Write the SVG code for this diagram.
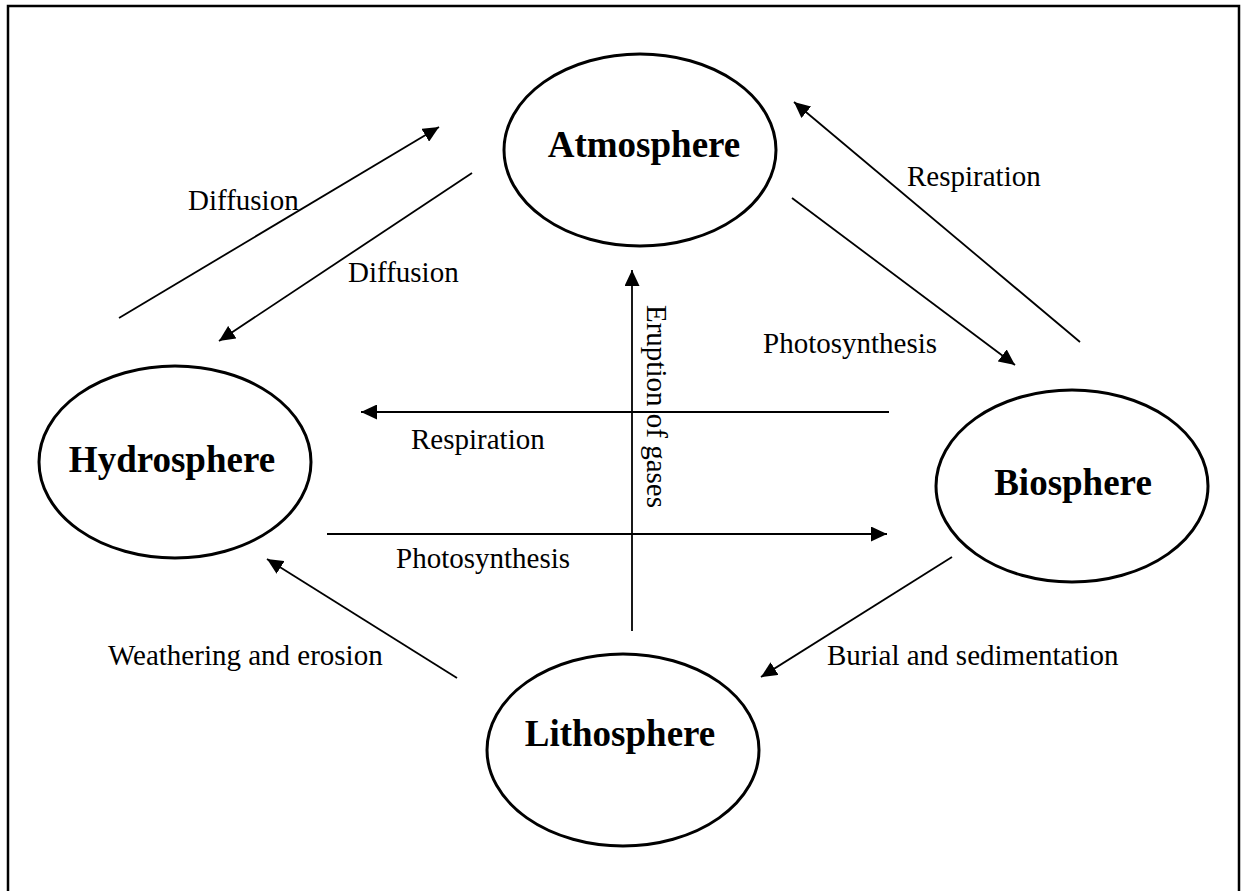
<svg xmlns="http://www.w3.org/2000/svg" width="1241" height="891" viewBox="0 0 1241 891">
<defs>
<marker id="ah" markerUnits="userSpaceOnUse" markerWidth="17" markerHeight="15" refX="16" refY="7.5" orient="auto">
<path d="M0,0 L16,7.5 L0,15 z" fill="#000"/>
</marker>
<style>
.node{fill:#fff;stroke:#000;stroke-width:3}
.title{font-family:"Liberation Serif","Times New Roman",serif;font-weight:bold;font-size:37px;fill:#000}
.lbl{font-family:"Liberation Serif","Times New Roman",serif;font-size:29px;fill:#000}
.c{stroke:#000;stroke-width:1.8;fill:none}
.ca{stroke:#000;stroke-width:1.8;fill:none;marker-end:url(#ah)}
</style>
</defs>
<rect x="0" y="0" width="1241" height="891" fill="#fff"/>
<path d="M8,900 L8,6 L1239,6 L1239,900" fill="none" stroke="#000" stroke-width="2.5"/>
<g id="connectors">
<line class="ca" x1="119" y1="318" x2="439" y2="127"/>
<line class="ca" x1="472" y1="173" x2="219" y2="341"/>
<line class="ca" x1="1080" y1="342" x2="794" y2="102"/>
<line class="ca" x1="792" y1="198" x2="1015" y2="365"/>
<line class="ca" x1="889" y1="412" x2="361" y2="412"/>
<line class="ca" x1="327" y1="534" x2="887" y2="534"/>
<line class="ca" x1="632" y1="631" x2="632" y2="270"/>
<line class="ca" x1="457" y1="678" x2="267" y2="559"/>
<line class="ca" x1="952" y1="557" x2="761" y2="677"/>
</g>
<g id="labels">
<text class="lbl" x="188" y="210">Diffusion</text>
<text class="lbl" x="348" y="282">Diffusion</text>
<text class="lbl" x="907" y="186">Respiration</text>
<text class="lbl" x="763" y="353">Photosynthesis</text>
<text class="lbl" x="411" y="449">Respiration</text>
<text class="lbl" x="396" y="568">Photosynthesis</text>
<text class="lbl" transform="translate(647,305) rotate(90)">Eruption of gases</text>
<text class="lbl" x="108" y="665">Weathering and erosion</text>
<text class="lbl" x="827" y="665">Burial and sedimentation</text>
</g>
<g id="atmosphere">
<ellipse class="node" cx="640" cy="150" rx="136" ry="96"/>
<text class="title" x="644" y="157" text-anchor="middle">Atmosphere</text>
</g>
<g id="hydrosphere">
<ellipse class="node" cx="175" cy="462" rx="136" ry="96"/>
<text class="title" x="172" y="472" text-anchor="middle">Hydrosphere</text>
</g>
<g id="biosphere">
<ellipse class="node" cx="1072" cy="486" rx="136" ry="96"/>
<text class="title" x="1073" y="495" text-anchor="middle">Biosphere</text>
</g>
<g id="lithosphere">
<ellipse class="node" cx="623" cy="750" rx="136" ry="96"/>
<text class="title" x="620" y="746" text-anchor="middle">Lithosphere</text>
</g>
</svg>
